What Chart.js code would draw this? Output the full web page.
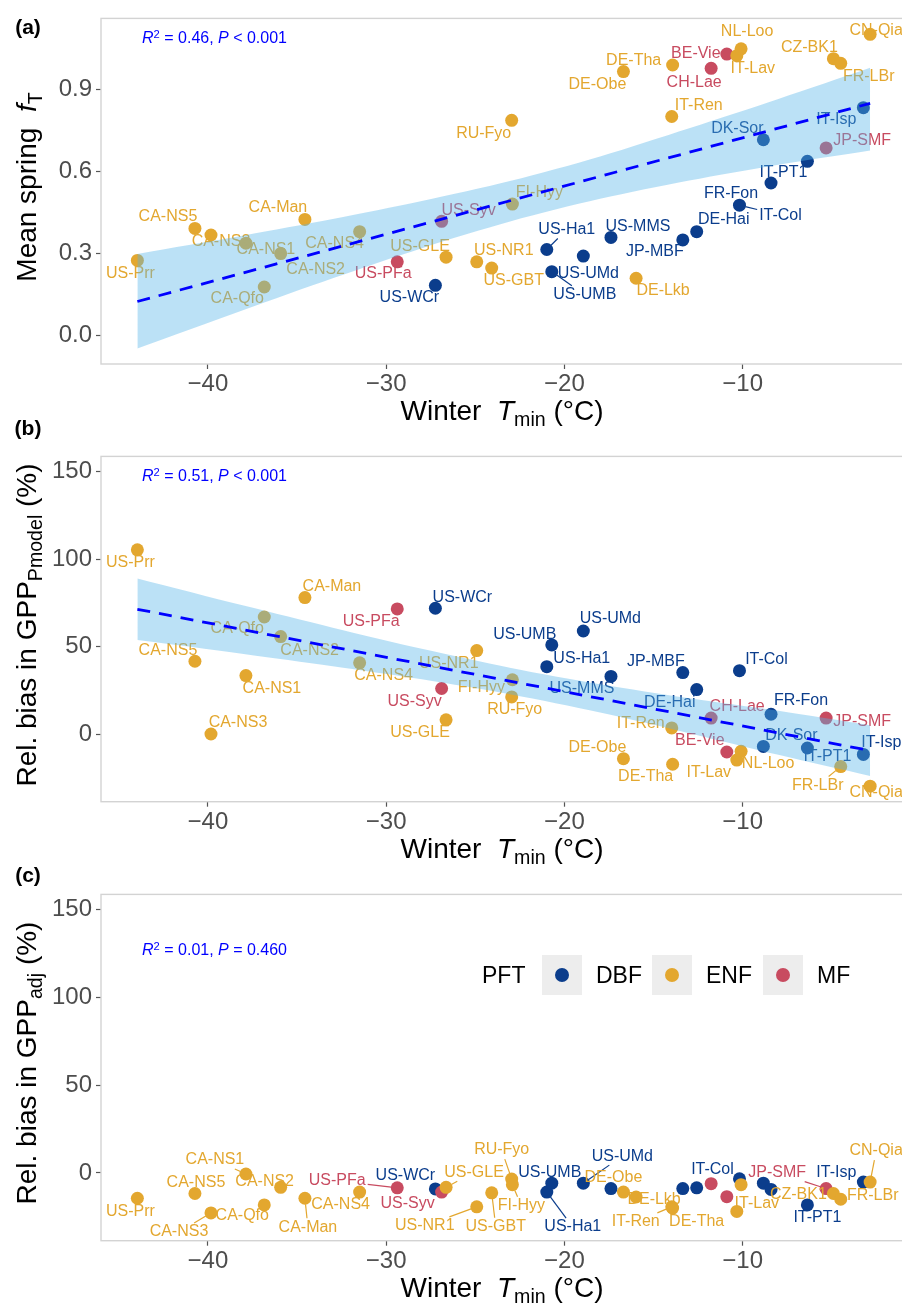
<!DOCTYPE html>
<html><head><meta charset="utf-8">
<script src="https://cdn.jsdelivr.net/npm/chart.js@4.4.1/dist/chart.umd.min.js"></script>
<style>
html,body{margin:0;padding:0;background:#fff;}
#page{position:relative;width:902px;height:1304px;overflow:hidden;background:#fff;font-family:"Liberation Sans",Arial,sans-serif;color:#000;}
canvas{position:absolute;left:0;}
.t{position:absolute;white-space:nowrap;line-height:1;}
.c{transform:translate(-50%,-50%);}
.l{transform:translateY(-50%);}
.yt{transform:translate(-50%,-50%) rotate(-90deg);}
.sub{font-size:0.7em;position:relative;top:0.3em;}
.sup{font-size:0.7em;position:relative;top:-0.45em;}
.panel{font-weight:bold;font-size:21px;}
.ax{font-size:28px;}
.r2{font-size:16px;color:#0000ff;}
.key{position:absolute;width:40px;height:40px;background:#ededed;}
.key i{position:absolute;left:13px;top:13px;width:14px;height:14px;border-radius:50%;}
.lg{font-size:23px;}
</style></head>
<body><div id="page">
<canvas id="ca" width="904" height="400" style="top:0px"></canvas>
<canvas id="cb" width="904" height="400" style="top:438px"></canvas>
<canvas id="cc" width="904" height="401" style="top:876px"></canvas>

<div class="t panel c" style="left:28px;top:26px">(a)</div>
<div class="t panel c" style="left:28px;top:427px">(b)</div>
<div class="t panel c" style="left:28px;top:874px">(c)</div>

<div class="t r2 l" style="left:142px;top:38px"><i>R</i><span class="sup">2</span> = 0.46, <i>P</i> &lt; 0.001</div>
<div class="t r2 l" style="left:142px;top:476px"><i>R</i><span class="sup">2</span> = 0.51, <i>P</i> &lt; 0.001</div>
<div class="t r2 l" style="left:142px;top:950px"><i>R</i><span class="sup">2</span> = 0.01, <i>P</i> = 0.460</div>

<div class="t ax c" style="left:502px;top:411px">Winter&nbsp; <i>T</i><span class="sub">min</span> (°C)</div>
<div class="t ax c" style="left:502px;top:849px">Winter&nbsp; <i>T</i><span class="sub">min</span> (°C)</div>
<div class="t ax c" style="left:502px;top:1288px">Winter&nbsp; <i>T</i><span class="sub">min</span> (°C)</div>

<div class="t ax yt" style="left:27px;top:187px">Mean spring&nbsp; <i>f</i><span class="sub">T</span></div>
<div class="t ax yt" style="left:27px;top:625px">Rel. bias in GPP<span class="sub">Pmodel</span> (%)</div>
<div class="t ax yt" style="left:27px;top:1063px">Rel. bias in GPP<span class="sub">adj</span> (%)</div>

<div class="t lg l" style="left:482px;top:975px">PFT</div>
<div class="key" style="left:542px;top:955px"><i style="background:#0B3D8C"></i></div>
<div class="t lg l" style="left:596px;top:975px">DBF</div>
<div class="key" style="left:652px;top:955px"><i style="background:#E3A72F"></i></div>
<div class="t lg l" style="left:706px;top:975px">ENF</div>
<div class="key" style="left:763px;top:955px"><i style="background:#C84B60"></i></div>
<div class="t lg l" style="left:817px;top:975px">MF</div>
</div>
<script>
// ---------------- data ----------------
const sites = ["US-Prr","CA-NS5","CA-NS3","CA-NS1","CA-Qfo","CA-NS2","CA-Man","CA-NS4","US-PFa","US-WCr",
  "US-Syv","US-GLE","US-NR1","US-GBT","RU-Fyo","FI-Hyy","US-Ha1","US-UMB","US-UMd","US-MMS",
  "DE-Obe","DE-Lkb","IT-Ren","DE-Tha","JP-MBF","DE-Hai","CH-Lae","BE-Vie","IT-Lav","IT-Col",
  "NL-Loo","DK-Sor","FR-Fon","IT-PT1","JP-SMF","CZ-BK1","FR-LBr","IT-Isp","CN-Qia"];
const pft = ["ENF","ENF","ENF","ENF","ENF","ENF","ENF","ENF","MF","DBF",
  "MF","ENF","ENF","ENF","ENF","ENF","DBF","DBF","DBF","DBF",
  "ENF","ENF","ENF","ENF","DBF","DBF","MF","MF","ENF","DBF",
  "ENF","DBF","DBF","DBF","MF","ENF","ENF","DBF","ENF"];
const winterTmin = [-43.96,-40.73,-39.83,-37.87,-36.84,-35.92,-34.56,-31.49,-29.38,-27.24,
  -26.89,-26.64,-24.92,-24.08,-22.96,-22.92,-20.99,-20.71,-18.94,-17.39,
  -16.69,-15.98,-13.98,-13.93,-13.36,-12.58,-11.77,-10.89,-10.33,-10.18,
  -10.09,-8.84,-8.41,-6.37,-5.32,-4.91,-4.50,-3.23,-2.85];
const springFT = [0.275,0.392,0.368,0.338,0.178,0.300,0.425,0.380,0.270,0.184,
  0.418,0.287,0.270,0.247,0.787,0.481,0.315,0.234,0.291,0.359,
  0.965,0.210,0.801,0.989,0.350,0.380,0.977,1.029,1.023,0.477,
  1.048,0.716,0.558,0.637,0.686,1.012,0.995,0.833,1.101];
const biasPmodel = [105.3,41.6,0.0,33.4,66.9,55.7,78.0,40.7,71.5,71.9,
  26.0,8.1,47.7,null,21.2,31.0,38.5,50.9,58.9,32.9,
  -14.1,null,3.5,-17.3,35.1,25.4,9.1,-10.3,-14.9,36.2,
  -9.9,-7.1,11.3,-8.0,9.1,null,-18.6,-11.7,-29.8];
const biasAdj = [-14.4,-11.7,-22.8,-0.6,-18.2,-8.2,-14.4,-10.9,-8.5,-9.1,
  -10.9,-8.2,-19.3,-11.3,-3.5,-6.7,-10.9,-5.8,-5.8,-8.9,
  -10.9,-13.7,-19.3,-20.0,-8.9,-8.5,-6.1,-13.5,-21.9,-3.3,
  -6.7,-5.8,-9.4,-18.2,-8.9,-11.7,-15.0,-5.2,-5.2];
// regression fits
const fitX = [-43.96,-2.85];
const fitA = [0.125,0.849];
const fitB = [71.3,-9.5];
// confidence ribbons
const ribX = [-43.96,-38,-33,-28,-23,-18,-13,-8,-2.85];
const ribAUpper = [0.299,0.366,0.426,0.492,0.566,0.655,0.758,0.865,0.979];
const ribALower = [-0.047,0.094,0.210,0.320,0.418,0.500,0.567,0.625,0.677];
const ribBUpper = [88.9,73.4,60.8,48.7,37.8,28.5,20.5,13.3,5.0];
const ribBLower = [53.7,45.8,38.8,31.3,22.6,12.3,0.5,-11.9,-24.0];
// tick labels
const xTicks = [-40,-30,-20,-10];
const yTicksA = [0,0.3,0.6,0.9];
const yTicksBC = [0,50,100,150];

// ---------------- styles / layout ----------------
const COLORS = {DBF:"#0B3D8C", ENF:"#E3A72F", MF:"#C84B60"};
// label offsets in px [dx, dy, leader]
const labA = [[-7,13],[-27,-12],[10,7],[20,6],[-27,12],[35,16],[-27,-12],[-25,12],[-14,12],[-26,12],
  [27,-11],[-26,-11],[27,-11],[22,12],[-28,13],[27,-11],[20,-20,1],[33,23,1],[5,18],[27,-11],
  [-26,13],[27,12],[27,-11],[-39,-4],[-28,12],[27,-12],[-17,14],[-31,0],[16,13],[41,10,1],
  [6,-17],[-26,-11],[-40,11],[-24,11],[36,-7],[-24,-11],[28,13],[-27,12],[6,-4]];
const labB = [[-7,13],[-27,-11],[27,-11],[26,13],[-27,12],[29,14],[27,-11],[24,13],[-26,13],[27,-11],
  [-27,13],[-26,13],[-28,13],null,[3,13],[-31,8],[35,-8],[-27,-10],[27,-12],[-29,12],
  [-26,-11],null,[-31,-4],[-27,12],[-27,-11],[-27,13],[26,-11],[-27,-11],[-28,13],[27,-11],
  [27,12],[28,-11],[30,-14],[20,9],[36,4],null,[-23,19,1],[18,-12],[6,6]];
const labC = [[-7,13],[1,-11],[-32,19,1],[-31,-14,1],[-22,11],[-16,-6],[3,29,1],[-19,13],[-60,-7,1],[-30,-13],
  [-34,12],[28,-15,1],[-52,19,1],[4,34,1],[-10,-29,1],[9,21,1],[26,35,1],[-2,-11],[39,-27,1],null,
  [-10,-14],[18,3],[-36,15,1],[24,14],null,null,null,null,[20,-8],[-27,-9],
  null,null,null,[10,13],[-49,-16,1],[-35,1],[32,-4],[-27,-9],[6,-31,1]];

const FONT = '"Liberation Sans", Arial, sans-serif';
Chart.defaults.font.family = FONT;

const labelPlugin = {
  id: 'siteLabels',
  afterDatasetDraw(chart, args, opts) {
    if (args.index !== 0) return;
    const ctx = chart.ctx;
    ctx.save();
    ctx.font = '16px ' + FONT;
    ctx.textAlign = 'center';
    ctx.textBaseline = 'middle';
    args.meta.data.forEach((el, k) => {
      const i = opts.idx[k];
      const L = opts.lay[i];
      if (!L) return;
      const col = COLORS[pft[i]];
      const px = el.x, py = el.y;
      const cx = px + L[0], cy = py + L[1];
      if (L[2]) {
        const w = ctx.measureText(sites[i]).width;
        const vx = px - cx, vy = py - cy;
        const s = Math.min((w/2 + 2) / Math.max(Math.abs(vx), 1e-6), (7 + 2) / Math.max(Math.abs(vy), 1e-6));
        if (s < 1) {
          const len = Math.hypot(vx, vy);
          const bx = cx + vx * s, by = cy + vy * s;
          const ex = px - vx / len * 6, ey = py - vy / len * 6;
          ctx.strokeStyle = col; ctx.lineWidth = 1.2;
          ctx.beginPath(); ctx.moveTo(bx, by); ctx.lineTo(ex, ey); ctx.stroke();
        }
      }
      ctx.fillStyle = col;
      ctx.fillText(sites[i], cx, cy);
    });
    ctx.restore();
  }
};
const framePlugin = {
  id: 'frame',
  afterDatasetsDraw(chart) {
    const a = chart.chartArea, ctx = chart.ctx;
    ctx.save();
    ctx.strokeStyle = '#d3d3d3'; ctx.lineWidth = 1.4;
    ctx.strokeRect(a.left, a.top, a.right - a.left, a.bottom - a.top);
    ctx.restore();
  }
};

function makePanel(id, yVals, yMin, yMax, yTicks, yFmt, lay, padTop, xH, fit, ribUp, ribLo) {
  const idx = [];
  const pts = [];
  yVals.forEach((v, i) => { if (v !== null) { idx.push(i); pts.push({x: winterTmin[i], y: v}); } });
  const cols = idx.map(i => COLORS[pft[i]]);
  const datasets = [{
    type: 'scatter', data: pts, pointRadius: 6.5, pointHoverRadius: 6.5,
    pointBackgroundColor: cols, pointBorderColor: cols, pointBorderWidth: 0, order: 3
  }];
  if (fit) {
    datasets.push({type: 'line', data: ribX.map((x, i) => ({x, y: ribLo[i]})), borderColor: 'rgba(0,0,0,0)',
      borderWidth: 0, pointRadius: 0, fill: false, order: 2, tension: 0.3});
    datasets.push({type: 'line', data: ribX.map((x, i) => ({x, y: ribUp[i]})), borderColor: 'rgba(0,0,0,0)',
      borderWidth: 0, pointRadius: 0, fill: '-1', backgroundColor: 'rgba(86,180,233,0.4)', order: 1, tension: 0.3});
    datasets.push({type: 'line', data: fitX.map((x, i) => ({x, y: fit[i]})), borderColor: '#0000ff',
      borderWidth: 2.8, borderDash: [13, 9], pointRadius: 0, fill: false, order: 0});
  }
  const tickGrid = {display: true, drawOnChartArea: false, drawTicks: true, tickLength: 5, tickColor: '#555', tickWidth: 1.2};
  new Chart(document.getElementById(id), {
    type: 'scatter',
    data: {datasets},
    options: {
      responsive: false, animation: false, devicePixelRatio: 1, events: [],
      layout: {padding: {top: padTop, left: 0, right: 0, bottom: 0}, autoPadding: false},
      plugins: {legend: {display: false}, tooltip: {enabled: false}, siteLabels: {idx, lay}},
      scales: {
        x: {type: 'linear', min: -46.0, max: -0.95,
          afterFit: s => { s.height = xH; },
          afterBuildTicks: s => { s.ticks = xTicks.map(v => ({value: v})); },
          ticks: {callback: v => (v < 0 ? '\u2212' : '') + Math.abs(v), color: '#4d4d4d', font: {size: 24}, padding: 1, maxRotation: 0, autoSkip: false},
          grid: tickGrid, border: {display: false}},
        y: {type: 'linear', min: yMin, max: yMax,
          afterFit: s => { s.width = 101; },
          afterBuildTicks: s => { s.ticks = yTicks.map(v => ({value: v})); },
          ticks: {callback: yFmt, color: '#4d4d4d', font: {size: 24}, padding: 4, autoSkip: false},
          grid: tickGrid, border: {display: false}}
      }
    },
    plugins: [labelPlugin, framePlugin]
  });
}

makePanel('ca', springFT, -0.1033, 1.1593, yTicksA, v => v.toFixed(1), labA, 9.5, 36, fitA, ribAUpper, ribALower);
makePanel('cb', biasPmodel, -38.7, 158.7, yTicksBC, v => String(Math.round(v)), labB, 9.7, 36.3, fitB, ribBUpper, ribBLower);
makePanel('cc', biasAdj, -38.6, 158.7, yTicksBC, v => String(Math.round(v)), labC, 9.7, 36.3, null, null, null);
</script>
</body></html>
